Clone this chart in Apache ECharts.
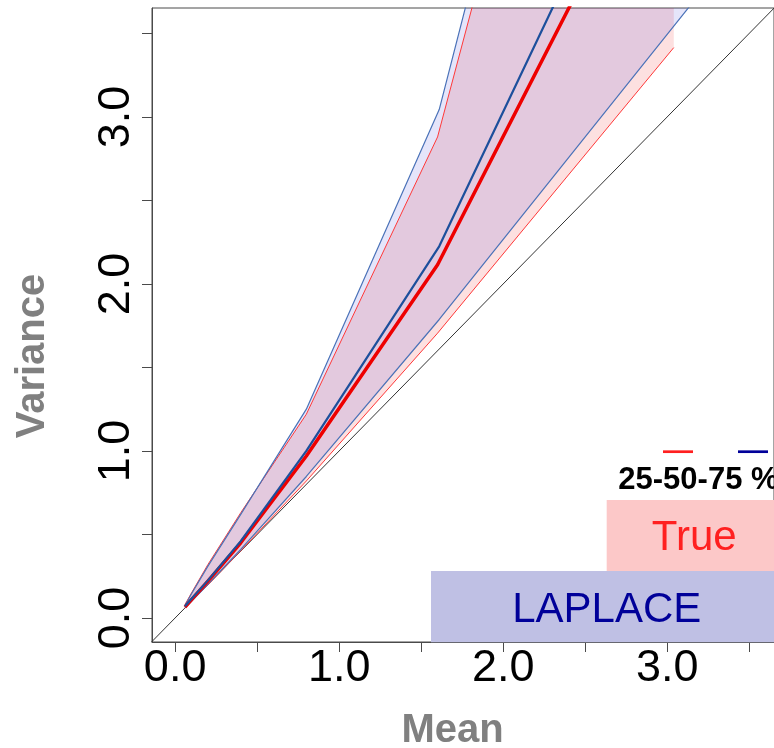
<!DOCTYPE html>
<html>
<head>
<meta charset="utf-8">
<script src="https://cdn.jsdelivr.net/npm/echarts@6/dist/echarts.min.js"></script>
<style>
html,body{margin:0;padding:0;background:#ffffff;}
#chart{width:774px;height:748px;}
</style>
</head>
<body>
<div id="chart"></div>
<script>
// Axis ranges and ticks
const xMin = -0.141, xMax = 3.651;
const yMin = -0.144, yMax = 3.652;
const tickValues = [0, 0.5, 1, 1.5, 2, 2.5, 3, 3.5];
const labelValues = [0, 1, 2, 3];

// "True" quantiles (25 / 50 / 75 %)
const trueX   = [0.06, 0.10, 0.20, 0.40, 0.80, 1.60, 3.04];
const trueQ25 = [0.058, 0.098, 0.198, 0.402, 0.82, 1.705, 3.415];
const trueQ50 = [0.065, 0.11, 0.22, 0.45, 0.97, 2.115, 4.88];
const trueQ75 = [0.08, 0.15, 0.32, 0.63, 1.22, 2.88, 8.19];

// "LAPLACE" quantiles (25 / 50 / 75 %)
const laplaceX   = [0.06, 0.10, 0.20, 0.40, 0.80, 1.61, 3.20];
const laplaceQ25 = [0.06, 0.10, 0.202, 0.41, 0.847, 1.787, 3.74];
const laplaceQ50 = [0.07, 0.115, 0.225, 0.46, 1.00, 2.225, 5.51];
const laplaceQ75 = [0.075, 0.145, 0.31, 0.62, 1.25, 3.044, 9.12];

// identity reference line y = x
const identityLine = [Math.min(xMin, yMin), Math.max(xMax, yMax)];

const FONT = '"Liberation Sans", Arial, sans-serif';

function band(name, xs, lo, hi, fill) {
  return {
    type: 'custom', name: name, coordinateSystem: 'cartesian2d',
    silent: true, z: 1, data: [[xs[0], lo[0]]],
    renderItem: function (params, api) {
      const pts = [];
      for (let i = 0; i < xs.length; i++) pts.push(api.coord([xs[i], hi[i]]));
      for (let i = xs.length - 1; i >= 0; i--) pts.push(api.coord([xs[i], lo[i]]));
      const cs = params.coordSys;
      return {
        type: 'group',
        clipPath: { type: 'rect', shape: { x: cs.x, y: cs.y, width: cs.width, height: cs.height } },
        children: [{ type: 'polygon', shape: { points: pts }, style: { fill: fill } }]
      };
    }
  };
}
function line(name, xs, ys, color, width, z) {
  return {
    type: 'line', name: name, data: xs.map((x, i) => [x, ys[i]]),
    symbol: 'none', clip: true, z: z, silent: true,
    lineStyle: { color: color, width: width }
  };
}

const chart = echarts.init(document.getElementById('chart'), null, { renderer: 'canvas' });
chart.setOption({
  animation: false,
  backgroundColor: '#ffffff',
  grid: { left: 152, top: 8, width: 634, height: 634, show: true, borderColor: '#4a4a4a', borderWidth: 1, backgroundColor: 'transparent' },
  xAxis: {
    type: 'value', min: xMin, max: xMax,
    splitLine: { show: false },
    axisLine: { show: true, onZero: false, lineStyle: { color: '#4a4a4a', width: 1 } },
    axisTick: { show: true, inside: false, customValues: tickValues, length: 10, lineStyle: { color: '#4a4a4a' } },
    axisLabel: { customValues: labelValues, formatter: v => Number(v).toFixed(1), fontSize: 45, color: '#000', fontFamily: FONT, margin: 4 }
  },
  yAxis: {
    type: 'value', min: yMin, max: yMax,
    splitLine: { show: false },
    axisLine: { show: true, onZero: false, lineStyle: { color: '#4a4a4a', width: 1 } },
    axisTick: { show: true, inside: false, customValues: tickValues, length: 10, lineStyle: { color: '#4a4a4a' } },
    axisLabel: { customValues: labelValues, formatter: v => Number(v).toFixed(1), fontSize: 45, color: '#000', fontFamily: FONT, rotate: 90, margin: 13 }
  },
  series: [
    band('True band', trueX, trueQ25, trueQ75, 'rgba(238,0,0,0.12)'),
    band('LAPLACE band', laplaceX, laplaceQ25, laplaceQ75, 'rgba(0,0,204,0.10)'),
    {
      type: 'line', name: 'identity', symbol: 'none', silent: true, z: 2, clip: true,
      data: [[identityLine[0], identityLine[0]], [identityLine[1], identityLine[1]]],
      lineStyle: { color: '#333', width: 1 }
    },
    line('True 25%', trueX, trueQ25, '#ff3838', 1, 3),
    line('True 75%', trueX, trueQ75, '#ff3838', 1, 3),
    line('LAPLACE 25%', laplaceX, laplaceQ25, '#4a72b8', 1.2, 4),
    line('LAPLACE 75%', laplaceX, laplaceQ75, '#4a72b8', 1.2, 4),
    line('True 50%', trueX, trueQ50, '#ee0000', 3.5, 5),
    line('LAPLACE 50%', laplaceX, laplaceQ50, '#1c4f9c', 2.2, 6)
  ],
  graphic: [
    { type: 'text', x: 33, y: 356, rotation: Math.PI / 2, z: 10,
      style: { text: 'Variance', font: 'bold 40px ' + FONT, fill: '#808080', align: 'center', verticalAlign: 'middle' } },
    { type: 'text', x: 452.5, y: 730.6, z: 10,
      style: { text: 'Mean', font: 'bold 40px ' + FONT, fill: '#808080', align: 'center', verticalAlign: 'middle' } },
    { type: 'rect', z: 10, shape: { x: 606.7, y: 500, width: 200, height: 71 }, style: { fill: '#fcc8c8' } },
    { type: 'rect', z: 10, shape: { x: 431, y: 571, width: 400, height: 71.3 }, style: { fill: '#bfc0e4' } },
    { type: 'text', x: 694.2, y: 538.7, z: 11,
      style: { text: 'True', font: '42px ' + FONT, fill: '#ff2020', align: 'center', verticalAlign: 'middle' } },
    { type: 'text', x: 606.7, y: 610.3, z: 11,
      style: { text: 'LAPLACE', font: '42px ' + FONT, fill: '#000099', align: 'center', verticalAlign: 'middle' } },
    { type: 'text', x: 618.3, y: 480.4, z: 11,
      style: { text: '25-50-75 %', font: 'bold 31px ' + FONT, fill: '#000', align: 'left', verticalAlign: 'middle' } },
    { type: 'line', z: 11, shape: { x1: 663, y1: 451.7, x2: 693, y2: 451.7 }, style: { stroke: '#ff2020', lineWidth: 2.7 } },
    { type: 'line', z: 11, shape: { x1: 738, y1: 451.7, x2: 768, y2: 451.7 }, style: { stroke: '#000099', lineWidth: 2.7 } }
  ]
});
</script>
</body>
</html>
